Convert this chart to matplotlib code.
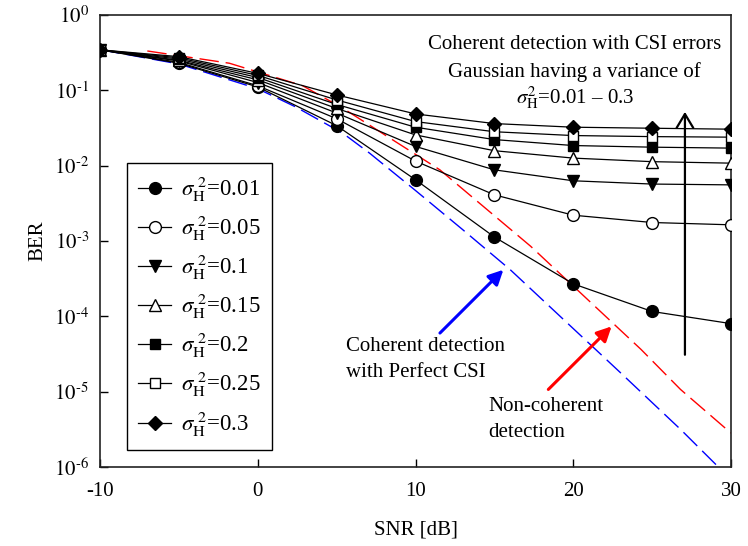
import matplotlib
matplotlib.use('Agg')
import matplotlib.pyplot as plt
from matplotlib.ticker import NullLocator, FixedLocator, FuncFormatter
import math

plt.rcParams['font.family'] = ['Liberation Serif', 'DejaVu Serif']
plt.rcParams['mathtext.fontset'] = 'stix'
plt.rcParams['axes.unicode_minus'] = False

# ---------------- data ----------------
snr = [-10, -5, 0, 5, 10, 15, 20, 25, 30]
ber_001 = [0.345, 0.229, 0.111, 0.034, 0.0065, 0.00113, 0.00027, 0.000116, 0.00008]
ber_005 = [0.345, 0.235, 0.115, 0.042, 0.0115, 0.0041, 0.0022, 0.00176, 0.00164]
ber_01 = [0.345, 0.245, 0.127, 0.050, 0.018, 0.0088, 0.0063, 0.0057, 0.00556]
ber_015 = [0.345, 0.250, 0.138, 0.0575, 0.0256, 0.0158, 0.0126, 0.0113, 0.0108]
ber_02 = [0.345, 0.260, 0.148, 0.065, 0.0324, 0.0222, 0.0185, 0.0176, 0.0171]
ber_025 = [0.345, 0.270, 0.158, 0.0746, 0.0385, 0.0282, 0.0251, 0.0243, 0.0239]
ber_03 = [0.345, 0.280, 0.168, 0.087, 0.0486, 0.0362, 0.0324, 0.0314, 0.0305]

snr_perfect = [-10, -5, 0, 2.4, 5.4, 7.1, 10, 13, 16, 23, 26.8, 29.2]
ber_perfect = [0.347, 0.224, 0.105, 0.0603, 0.0269, 0.0146, 0.00468, 0.00141,
               0.000417, 1.78e-5, 3.16e-6, 1.0e-6]

snr_noncoh = [-7, -1.8, 2.85, 5.4, 11.55, 17.3, 24.3, 26.8, 30]
ber_noncoh = [0.333, 0.229, 0.115, 0.0578, 0.00879, 0.000851, 3.63e-5, 1.07e-5, 2.82e-6]

labels = ['0.01', '0.05', '0.1', '0.15', '0.2', '0.25', '0.3']
series = [ber_001, ber_005, ber_01, ber_015, ber_02, ber_025, ber_03]
markers = ['o', 'o', 'v', '^', 's', 's', 'D']
faces = ['black', 'white', 'black', 'white', 'black', 'white', 'black']
msizes = [8.5, 8.5, 8.5, 8.5, 7.5, 7.5, 7.0]

xticks = [-10, 0, 10, 20, 30]
yticks = [1e0, 1e-1, 1e-2, 1e-3, 1e-4, 1e-5, 1e-6]

# ---------------- figure ----------------
fig = plt.figure(figsize=(7.48, 5.46), dpi=100)
ax = fig.add_axes([100 / 748, 79 / 546, 631 / 748, 452 / 546])

ax.plot(snr_perfect, ber_perfect, color='blue', lw=1.0, dashes=(14, 5), zorder=2)
ax.plot(snr_noncoh, ber_noncoh, color='red', lw=1.0, dashes=(14, 5), zorder=2)

handles = []
for lab, y, m, fc, ms in zip(labels, series, markers, faces, msizes):
    h, = ax.plot(snr, y, color='black', lw=0.9, marker=m, markersize=ms,
                 markerfacecolor=fc, markeredgecolor='black', markeredgewidth=1.0,
                 label=r'$\sigma_{\mathrm{H}}^{\ 2}$=' + lab, zorder=3)
    handles.append(h)


def log_fmt(v, pos):
    e = int(round(math.log10(v)))
    return r'$10^{\text{%d}}$' % e


ax.set_yscale('log')
ax.set_xlim(-10, 30)
ax.set_ylim(1e-6, 1)
ax.xaxis.set_major_locator(FixedLocator(xticks))
ax.yaxis.set_major_locator(FixedLocator(yticks))
ax.yaxis.set_major_formatter(FuncFormatter(log_fmt))
ax.yaxis.set_minor_locator(NullLocator())
ax.xaxis.set_minor_locator(NullLocator())
ax.tick_params(direction='in', length=6, width=1.0, labelsize=15, top=False, right=False)
ax.tick_params(axis='x', pad=11)
ax.tick_params(axis='y', pad=8)
for s in ax.spines.values():
    s.set_linewidth(1.2)
    s.set_color('#222222')

ax.set_xlabel('SNR [dB]', fontsize=15, labelpad=14)
ax.set_ylabel('BER', fontsize=15, labelpad=5)

leg = ax.legend(handles=handles, loc='lower left', bbox_to_anchor=(0.0428, 0.0376),
                frameon=True, fancybox=False, edgecolor='black', framealpha=1,
                fontsize=16.5, handlelength=1.4, handletextpad=0.45, labelspacing=0.43,
                borderpad=0.5, borderaxespad=0)
leg.get_frame().set_linewidth(1.0)

# annotations
ax.annotate('', xy=(15.57, 4.15e-4), xytext=(11.55, 6.0e-5),
            arrowprops=dict(arrowstyle='-|>', color='blue', lw=2.2, mutation_scale=22,
                            shrinkA=0, shrinkB=0))
ax.annotate('', xy=(22.43, 7.35e-5), xytext=(18.42, 1.07e-5),
            arrowprops=dict(arrowstyle='-|>', color='red', lw=2.2, mutation_scale=22,
                            shrinkA=0, shrinkB=0))
ax.annotate('', xy=(27.08, 0.0518), xytext=(27.08, 3.09e-5),
            arrowprops=dict(arrowstyle='->,head_length=0.5,head_width=0.3', color='black',
                            lw=1.6, mutation_scale=20, shrinkA=0, shrinkB=0))

ax.text(5.6, 10 ** -4.403, 'Coherent detection', fontsize=15, ha='left', va='center')
ax.text(5.6, 10 ** -4.748, 'with Perfect CSI', fontsize=15, ha='left', va='center')
ax.text(14.6, 10 ** -5.195, 'Non-coherent', fontsize=15, ha='left', va='center')
ax.text(14.6, 10 ** -5.544, 'detection', fontsize=15, ha='left', va='center')

ax.text(20.1, 10 ** -0.398, 'Coherent detection with CSI errors', fontsize=15,
        ha='center', va='center')
ax.text(20.1, 10 ** -0.756, 'Gaussian having a variance of', fontsize=15,
        ha='center', va='center')
ax.text(20.1, 10 ** -1.167, r'$\sigma_{\mathrm{H}}^{2}$=0.01 – 0.3', fontsize=15,
        ha='center', va='baseline')

fig.savefig('out.png', dpi=100)
